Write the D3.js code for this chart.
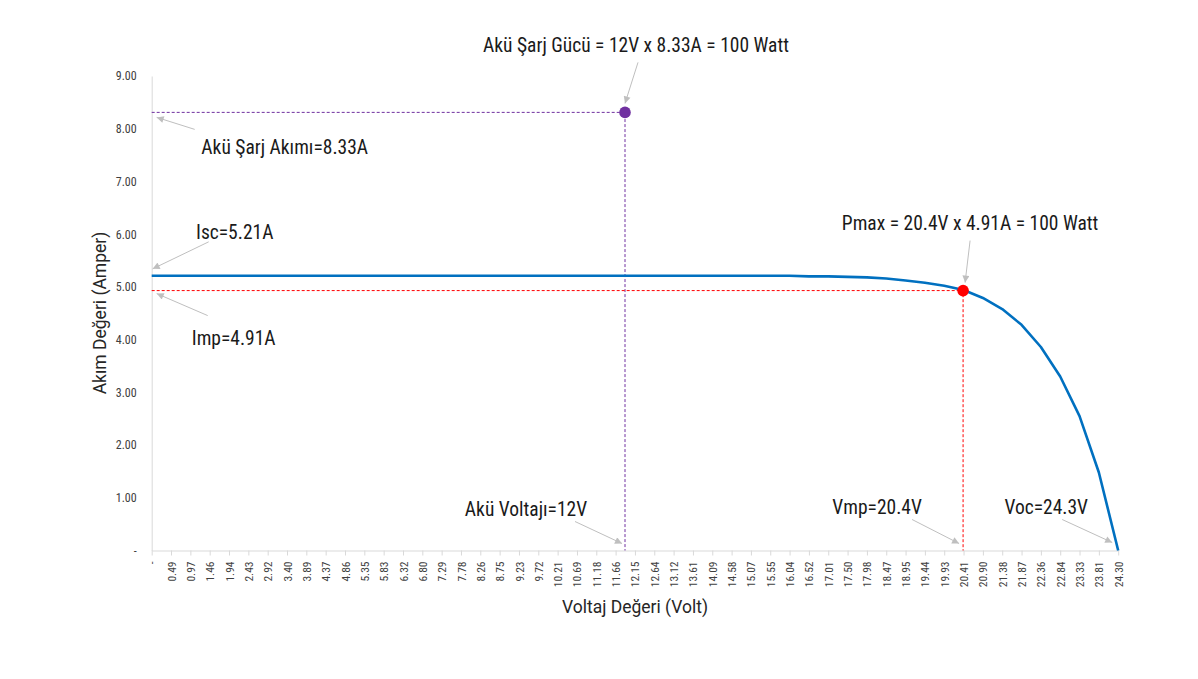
<!DOCTYPE html>
<html>
<head>
<meta charset="utf-8">
<script src="https://cdn.jsdelivr.net/npm/d3@7"></script>
<style>
  body { margin: 0; background: #fff; }
  .cond { font-family: "Roboto Condensed", "Liberation Sans Narrow", "DejaVu Sans Condensed", Roboto, sans-serif; }
</style>
</head>
<body>
<div id="app"></div>
<script>
const voltLabels = ["-", "0.49", "0.97", "1.46", "1.94", "2.43", "2.92", "3.40", "3.89", "4.37",
  "4.86", "5.35", "5.83", "6.32", "6.80", "7.29", "7.78", "8.26", "8.75", "9.23",
  "9.72", "10.21", "10.69", "11.18", "11.66", "12.15", "12.64", "13.12", "13.61", "14.09",
  "14.58", "15.07", "15.55", "16.04", "16.52", "17.01", "17.50", "17.98", "18.47", "18.95",
  "19.44", "19.93", "20.41", "20.90", "21.38", "21.87", "22.36", "22.84", "23.33", "23.81", "24.30"]

const current = [5.21, 5.21, 5.21, 5.21, 5.21, 5.21, 5.21, 5.21, 5.21, 5.21,
  5.21, 5.21, 5.21, 5.21, 5.21, 5.21, 5.21, 5.21, 5.21, 5.21,
  5.21, 5.21, 5.21, 5.21, 5.21, 5.21, 5.21, 5.21, 5.21, 5.21,
  5.21, 5.21, 5.21, 5.21, 5.20, 5.20, 5.19, 5.18, 5.16, 5.12,
  5.08, 5.02, 4.94, 4.79, 4.58, 4.28, 3.86, 3.30, 2.55, 1.48, 0]

const yTicks = [0, 1, 2, 3, 4, 5, 6, 7, 8, 9]

// operating points: [volt, amper]
const battery = [11.9, 8.31]
const pmax = [20.4, 4.93]
const vocPoint = [24.30, 0]
const iscPoint = [0, 5.21]

const titleText = "Akü Şarj Gücü = 12V x 8.33A = 100 Watt"
const noteTexts = {
  akim: "Akü Şarj Akımı=8.33A",
  isc: "Isc=5.21A",
  imp: "Imp=4.91A",
  pmax: "Pmax = 20.4V x 4.91A = 100 Watt",
  vmp: "Vmp=20.4V",
  voc: "Voc=24.3V",
  aku: "Akü Voltajı=12V"
}

const width = 1198, height = 679

const svg = d3.select('#app')
  .append('svg')
  .attr('width', width)
  .attr('height', height)

const x = d3.scalePoint()
  .domain(voltLabels)
  .range([151.7, 1118.2])

const xv = d3.scaleLinear()
  .domain([0, 24.30])
  .range([151.7, 1118.2])

const y = d3.scaleLinear()
  .domain([0, 9])
  .range([550.5, 76])

// axes
const yAxis = svg.append('g')
  .attr('class', 'cond')
  .attr('transform', `translate(${x.range()[0]},0)`)
  .call(d3.axisLeft(y).tickValues(yTicks)
    .tickFormat(d => d === 0 ? '-' : d.toFixed(2))
    .tickSize(0).tickPadding(15))
yAxis.select('.domain').attr('stroke', '#d9d9d9')
yAxis.selectAll('text').attr('font-size', 12).attr('fill', '#404040')

const xAxis = svg.append('g')
  .attr('class', 'cond')
  .attr('transform', `translate(0,${y(0)})`)
  .call(d3.axisBottom(x).tickSize(5).tickSizeOuter(0))
xAxis.select('.domain').attr('stroke', '#d9d9d9')
xAxis.selectAll('.tick line').attr('stroke', '#d9d9d9')
xAxis.selectAll('text')
  .attr('font-size', 11.5)
  .attr('fill', '#404040')
  .attr('transform', 'rotate(-90)')
  .attr('text-anchor', 'end')
  .attr('x', -11)
  .attr('y', 0)
  .attr('dy', '0.35em')

// axis titles
svg.append('text')
  .attr('x', 635).attr('y', 613)
  .attr('text-anchor', 'middle')
  .attr('font-family', 'Roboto, sans-serif')
  .attr('font-size', 17.5)
  .attr('fill', '#262626')
  .text('Voltaj Değeri (Volt)')

svg.append('text')
  .attr('transform', 'translate(106,313) rotate(-90)')
  .attr('text-anchor', 'middle')
  .attr('font-family', 'Roboto, sans-serif')
  .attr('font-size', 17.5)
  .attr('fill', '#262626')
  .text('Akım Değeri (Amper)')

// guide lines
function guide(pt, colour) {
  const px = xv(pt[0]), py = y(pt[1])
  svg.append('path')
    .attr('d', `M${xv(0)},${py}H${px}V${y(0)}`)
    .attr('fill', 'none')
    .attr('stroke', colour)
    .attr('stroke-width', 1)
    .attr('stroke-dasharray', '3,2')
}
guide(battery, '#7030a0')
guide(pmax, '#ff0000')

// I-V curve
const line = d3.line()
  .x((d, i) => x(voltLabels[i]))
  .y(d => y(d))

svg.append('path')
  .datum(current)
  .attr('d', line)
  .attr('fill', 'none')
  .attr('stroke', '#0070c0')
  .attr('stroke-width', 2.6)
  .attr('stroke-linejoin', 'round')

// points
svg.append('circle')
  .attr('cx', xv(battery[0])).attr('cy', y(battery[1]))
  .attr('r', 5.8).attr('fill', '#7030a0')
svg.append('circle')
  .attr('cx', xv(pmax[0])).attr('cy', y(pmax[1]))
  .attr('r', 5.8).attr('fill', '#ff0000')

// annotations
svg.append('defs').append('marker')
  .attr('id', 'head')
  .attr('viewBox', '0 0 10 10')
  .attr('refX', 10).attr('refY', 5)
  .attr('markerWidth', 9).attr('markerHeight', 7)
  .attr('markerUnits', 'userSpaceOnUse')
  .attr('orient', 'auto')
  .append('path')
  .attr('d', 'M0,0L10,5L0,10Z')
  .attr('fill', '#bfbfbf')

// pt: data anchor, tail/head/text: pixel offsets from anchor
function note(text, pt, tail, head, pos) {
  const ax = xv(pt[0]), ay = y(pt[1])
  svg.append('line')
    .attr('x1', ax + tail[0]).attr('y1', ay + tail[1])
    .attr('x2', ax + head[0]).attr('y2', ay + head[1])
    .attr('stroke', '#bfbfbf')
    .attr('stroke-width', 1)
    .attr('marker-end', 'url(#head)')
  svg.append('text')
    .attr('class', 'cond')
    .attr('x', ax + pos[0]).attr('y', ay + pos[1])
    .attr('dy', '0.35em')
    .attr('text-anchor', 'middle')
    .attr('font-size', 19.5)
    .attr('fill', '#1a1a1a')
    .text(text)
}

note(titleText, battery, [13, -50], [0, -9], [11, -67])
note(noteTexts.akim, [0, battery[1]], [43, 17], [5, 5], [133, 35])
note(noteTexts.isc, iscPoint, [57, -34], [1, -7], [83, -44])
note(noteTexts.imp, [0, pmax[1]], [56, 25], [5, 3], [82, 48])
note(noteTexts.pmax, pmax, [7, -50], [2, -8], [7, -67])
note(noteTexts.vmp, [pmax[0], 0], [-51, -31], [-4, -7], [-86, -43])
note(noteTexts.voc, vocPoint, [-56, -31], [-6, -8], [-72, -43])
note(noteTexts.aku, [battery[0], 0], [-50, -29], [-3, -7], [-99, -41])
</script>
</body>
</html>
